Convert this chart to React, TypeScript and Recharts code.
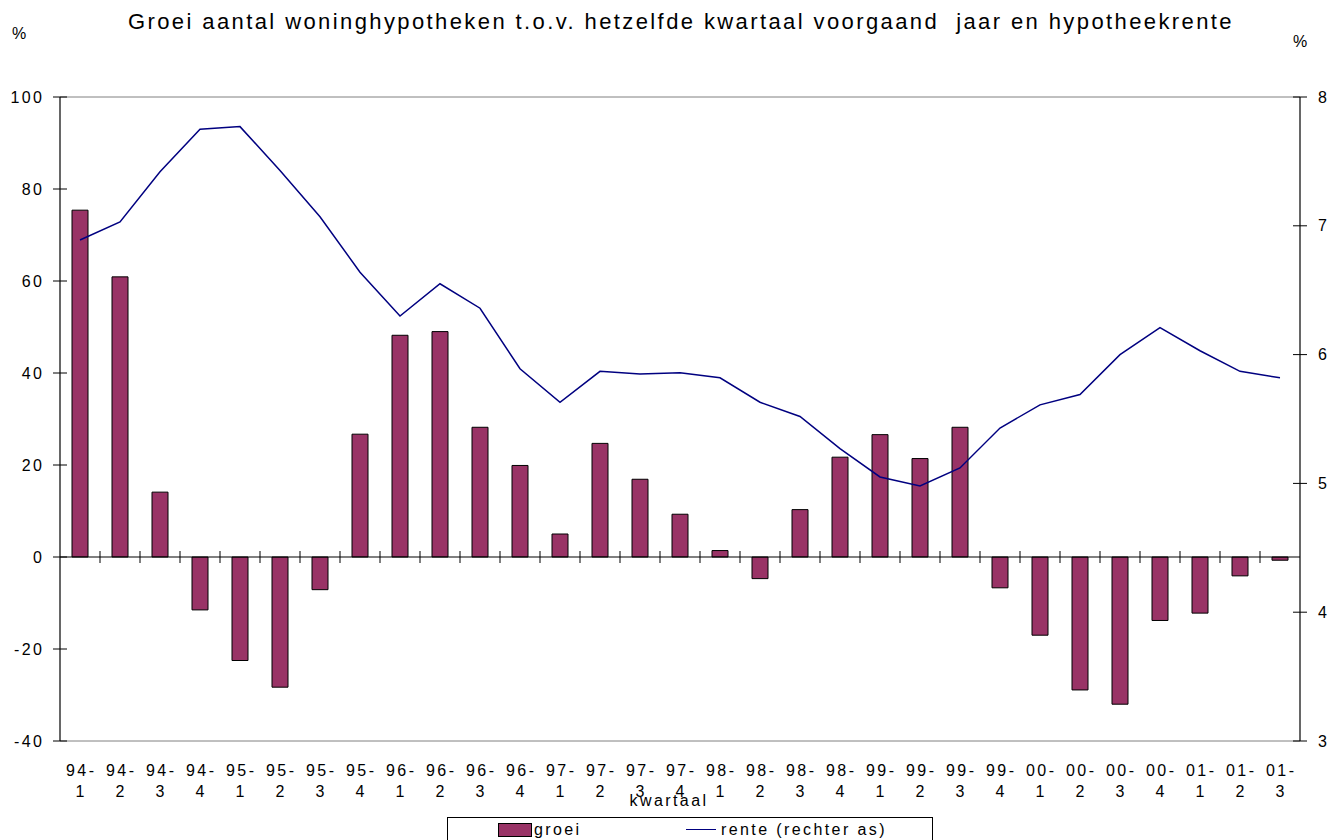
import { ComposedChart, Bar, Line, XAxis, YAxis, ReferenceLine, Legend } from "recharts";

const quarters = [
  "94-1", "94-2", "94-3", "94-4",
  "95-1", "95-2", "95-3", "95-4",
  "96-1", "96-2", "96-3", "96-4",
  "97-1", "97-2", "97-3", "97-4",
  "98-1", "98-2", "98-3", "98-4",
  "99-1", "99-2", "99-3", "99-4",
  "00-1", "00-2", "00-3", "00-4",
  "01-1", "01-2", "01-3",
];

const groei = [
  75.4, 60.9, 14.1, -11.5, -22.5, -28.3, -7.1, 26.7, 48.2, 49.0, 28.2, 19.9, 5.0, 24.7, 16.9, 9.3,
  1.4, -4.7, 10.3, 21.7, 26.6, 21.4, 28.2, -6.7, -17.0, -28.9, -32.0, -13.8, -12.2, -4.1, -0.7,
];

const rente = [
  6.89, 7.03, 7.42, 7.75, 7.77, 7.43, 7.07, 6.64, 6.3, 6.55, 6.36, 5.89, 5.63, 5.87, 5.85, 5.86,
  5.82, 5.63, 5.52, 5.27, 5.05, 4.98, 5.12, 5.43, 5.61, 5.69, 6.0, 6.21, 6.03, 5.87, 5.82,
];

const leftTicks = [-40, -20, 0, 20, 40, 60, 80, 100];
const rightTicks = [3, 4, 5, 6, 7, 8];

const data = quarters.map((kw, i) => ({ kw, groei: groei[i], rente: rente[i] }));

const FONT = "'Liberation Sans', Arial, sans-serif";
const BAR_COLOR = "#993366";
const LINE_COLOR = "#000080";
const TICK_SIZE = 7;
const TICK_MARGIN = 11;
const SPACING = 2.4;

const LeftTick = ({ x, y, payload }: any) => {
  const ax = x + TICK_SIZE + TICK_MARGIN;
  return (
    <g>
      <line x1={ax - 7} x2={ax + 7} y1={y} y2={y} stroke="#000" />
      <text x={x + SPACING} y={y} dy={5.5} textAnchor="end" fontSize={16} fill="#000" fontFamily={FONT} letterSpacing={SPACING}>
        {payload.value}
      </text>
    </g>
  );
};

const RightTick = ({ x, y, payload }: any) => {
  const ax = x - TICK_SIZE - TICK_MARGIN;
  return (
    <g>
      <line x1={ax - 7} x2={ax + 7} y1={y} y2={y} stroke="#000" />
      <text x={x} y={y} dy={5.5} textAnchor="start" fontSize={16} fill="#000" fontFamily={FONT} letterSpacing={SPACING}>
        {payload.value}
      </text>
    </g>
  );
};

const QuarterTick = ({ x, y, payload }: any) => {
  const [yr, q] = String(payload.value).split("-");
  return (
    <g fontSize={16} fill="#000" fontFamily={FONT} letterSpacing={SPACING}>
      <text x={x + SPACING / 2} y={y + 35} textAnchor="middle">{yr + "-"}</text>
      <text x={x + SPACING / 2} y={y + 56} textAnchor="middle">{q}</text>
    </g>
  );
};

// zero line with category separators, like the old Excel category axis
const ZeroAxis = (props: any) => {
  const { x1, x2, y1 } = props;
  const n = quarters.length;
  const step = (x2 - x1) / n;
  return (
    <g>
      <line x1={x1} x2={x2} y1={y1} y2={y1} stroke="#000" strokeWidth={1.2} />
      {quarters.slice(1).map((_, k) => (
        <line key={k} x1={x1 + step * (k + 1)} x2={x1 + step * (k + 1)} y1={y1 - 6} y2={y1 + 6} stroke="#000" />
      ))}
    </g>
  );
};

const LegendBox = () => (
  <div
    style={{
      position: "relative",
      width: 486,
      height: 32,
      border: "1px solid #000",
      boxSizing: "border-box",
      background: "#fff",
      fontFamily: FONT,
      fontSize: 16,
      letterSpacing: SPACING,
      color: "#000",
    }}
  >
    <div style={{ position: "absolute", left: 50, top: 5, width: 32, height: 12, background: BAR_COLOR, border: "1px solid #000" }} />
    <div style={{ position: "absolute", left: 86, top: 2, lineHeight: "20px" }}>groei</div>
    <div style={{ position: "absolute", left: 238, top: 11, width: 30, height: 0, borderTop: `1.5px solid ${LINE_COLOR}` }} />
    <div style={{ position: "absolute", left: 273, top: 2, lineHeight: "20px", whiteSpace: "pre" }}>rente (rechter as)</div>
  </div>
);

const KwartaalLabel = ({ viewBox }: any) => (
  <text
    x={viewBox.x + viewBox.width / 2 - 11}
    y={viewBox.y + 65}
    textAnchor="middle"
    fontSize={16}
    fontFamily={FONT}
    letterSpacing={SPACING}
    fill="#000"
  >
    kwartaal
  </text>
);

export default function App() {
  return (
    <div style={{ position: "absolute", left: 0, top: 0, width: 1332, height: 840, background: "#fff", overflow: "hidden" }}>
      <div
        style={{
          position: "absolute",
          left: 128,
          top: 11,
          fontFamily: FONT,
          fontSize: 22,
          lineHeight: "22px",
          letterSpacing: 2.4,
          whiteSpace: "pre",
          color: "#000",
        }}
      >
        Groei aantal woninghypotheken t.o.v. hetzelfde kwartaal voorgaand  jaar en hypotheekrente
      </div>
      <div style={{ position: "absolute", left: 12, top: 24, fontFamily: FONT, fontSize: 16, lineHeight: "20px" }}>%</div>
      <div style={{ position: "absolute", left: 1293, top: 32, fontFamily: FONT, fontSize: 16, lineHeight: "20px" }}>%</div>

      <ComposedChart width={1332} height={840} data={data} margin={{ top: 97, right: 0, bottom: 0, left: 0 }}>
        <XAxis
          dataKey="kw"
          height={99}
          axisLine={false}
          tickLine={false}
          tickSize={0}
          tickMargin={0}
          interval={0}
          tick={<QuarterTick />}
          label={<KwartaalLabel />}
        />
        <YAxis
          yAxisId="left"
          orientation="left"
          width={60}
          domain={[-40, 100]}
          ticks={leftTicks}
          interval={0}
          allowDataOverflow
          axisLine={{ stroke: "#000", strokeWidth: 1.2 }}
          tickLine={false}
          tickSize={TICK_SIZE}
          tickMargin={TICK_MARGIN}
          tick={<LeftTick />}
        />
        <YAxis
          yAxisId="right"
          orientation="right"
          width={32}
          domain={[3, 8]}
          ticks={rightTicks}
          interval={0}
          allowDataOverflow
          axisLine={{ stroke: "#000", strokeWidth: 1.2 }}
          tickLine={false}
          tickSize={TICK_SIZE}
          tickMargin={TICK_MARGIN}
          tick={<RightTick />}
        />
        <ReferenceLine yAxisId="left" y={100} stroke="#808080" />
        <ReferenceLine yAxisId="left" y={-40} stroke="#808080" />
        <Bar yAxisId="left" dataKey="groei" fill={BAR_COLOR} stroke="#000" strokeWidth={1} barSize={16} isAnimationActive={false} />
        <ReferenceLine yAxisId="left" y={0} shape={(p: any) => <ZeroAxis {...p} />} />
        <Line
          yAxisId="right"
          type="linear"
          dataKey="rente"
          stroke={LINE_COLOR}
          strokeWidth={1.5}
          dot={false}
          activeDot={false}
          isAnimationActive={false}
        />
        <Legend
          layout="horizontal"
          verticalAlign="middle"
          align="center"
          content={<LegendBox />}
          wrapperStyle={{ position: "absolute", left: 447, top: 817, width: 486, height: 32 }}
        />
      </ComposedChart>
    </div>
  );
}
